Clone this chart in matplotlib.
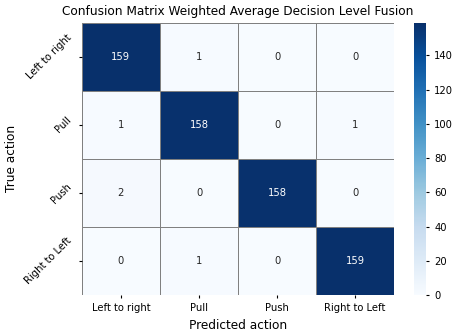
import numpy as np
import matplotlib
matplotlib.use('Agg')
import matplotlib.pyplot as plt
import seaborn as sns

labels = ['Left to right', 'Pull', 'Push', 'Right to Left']
cm = np.array([[159, 1, 0, 0],
               [1, 158, 0, 1],
               [2, 0, 158, 0],
               [0, 1, 0, 159]])

fig = plt.figure(figsize=(4.6, 3.36), dpi=100)
ax = fig.add_axes([0.178, 0.122, 0.679, 0.810])
cax = fig.add_axes([0.900, 0.122, 0.026, 0.810])

sns.heatmap(cm, annot=True, fmt='d', cmap='Blues', linewidths=0.5, linecolor='gray',
            xticklabels=labels, yticklabels=labels, ax=ax, cbar_ax=cax,
            annot_kws={'fontsize': 7.2})
ax.set_title('Confusion Matrix Weighted Average Decision Level Fusion', fontsize=8.7)
ax.set_xlabel('Predicted action', fontsize=8.7)
ax.set_ylabel('True action', fontsize=8.7)
ax.tick_params(labelsize=7.2, length=2.5)
plt.setp(ax.get_yticklabels(), rotation=45, ha='right', rotation_mode='default')
plt.setp(ax.get_xticklabels(), rotation=0)
cax.tick_params(labelsize=7.2, length=2.5)
cax.set_yticks(range(0, 160, 20))

fig.savefig('out.png', dpi=100, facecolor='white')
